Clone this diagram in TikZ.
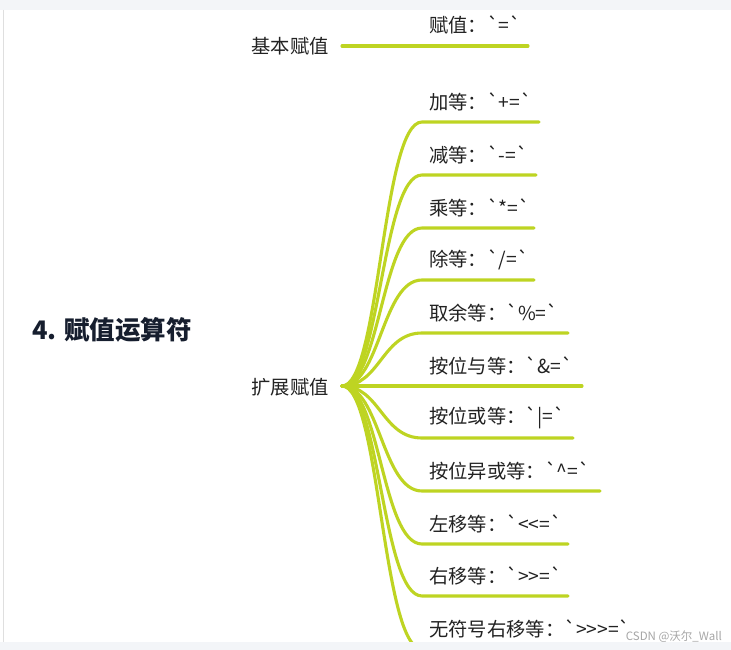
\documentclass[tikz,border=0pt]{standalone}
\usepackage{fontspec}
\newfontfamily\cjk{Noto Sans CJK SC}
\usetikzlibrary{calc}
\definecolor{lime}{RGB}{190,212,34}
\definecolor{txt}{RGB}{34,34,34}
\definecolor{ttl}{RGB}{22,30,46}
\definecolor{strip}{RGB}{243,245,248}
\tikzset{
  lbl/.style={anchor=west,inner sep=0pt,text=txt,font=\cjk\fontsize{19.3}{21}\selectfont},
  mid/.style={anchor=center,inner sep=0pt,text=txt,font=\cjk\fontsize{19.3}{21}\selectfont},
  br/.style={draw=lime,line width=3.1pt,line cap=round}
}
\begin{document}
\begin{tikzpicture}[x=1pt,y=-1pt]
\useasboundingbox (0,0) rectangle (731,650);
\fill[white] (0,0) rectangle (731,650);
% title
\node[anchor=west,inner sep=0pt,text=ttl,font=\cjk\bfseries\fontsize{25.5}{27}\selectfont] (title) at (32,330) {4. 赋值运算符};
% basic
\node[mid] (basic) at (290,46) {基本赋值};
\coordinate (r1) at (342,46);
\coordinate (e1) at (528,46);
\node[lbl] (l1) at (429,25) {赋值：`=`};
\draw[br] (r1) -- (e1);
% extended
\node[mid] (ext) at (290,387) {扩展赋值};
\coordinate (r2) at (342,386);
\foreach \n/\y/\xe/\t in {
  a/122/539/{加等：`+=`},
  b/175/536/{减等：`-=`},
  c/228/534/{乘等：`*=`},
  d/280/534/{除等：`/=`},
  e/333/568/{取余等：`\%=`},
  f/386/582/{按位与等：`\&=`},
  g/438/573/{按位或等：`|=`},
  h/491/600/{按位异或等：`\symbol{94}=`},
  i/544/568/{左移等：`<<=`},
  j/596/568/{右移等：`>>=`},
  k/649/640/{无符号右移等：`>>>=`}}{
  \node[lbl] (l\n) at (429,\y-20) {\t};
  \coordinate (s\n) at (422,\y);
  \coordinate (e\n) at (\xe,\y);
  \draw[br] (r2) .. controls +(38,0) and +(-40,0) .. (s\n) -- (e\n);
}
% frame strips
\fill[strip] (0,0) rectangle (731,10);
\fill[strip] (0,641.5) rectangle (731,650);
\draw[gray!25,line width=0.8pt] (3,10) -- (3,641.5);
\node[anchor=east,inner sep=0pt,text=gray!70,font=\cjk\fontsize{11.5}{12}\selectfont] (wm) at (722,637) {CSDN @沃尔\_Wall};
\end{tikzpicture}
\end{document}
